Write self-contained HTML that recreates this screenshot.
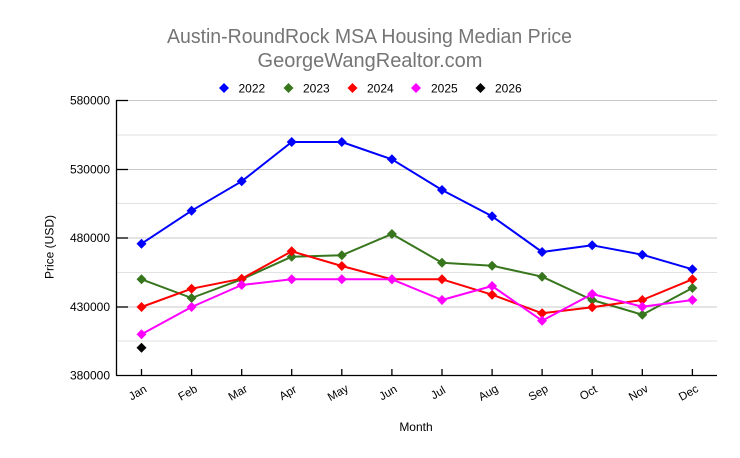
<!DOCTYPE html>
<html><head><meta charset="utf-8"><style>
html,body{margin:0;padding:0;background:#fff;}
svg{display:block;font-family:"Liberation Sans",Arial,sans-serif;}
</style></head><body>
<svg width="740" height="458" viewBox="0 0 740 458" xmlns="http://www.w3.org/2000/svg">
<rect width="740" height="458" fill="#fff"/>
<text x="369.5" y="43" text-anchor="middle" font-size="20" fill="#757575" textLength="405" lengthAdjust="spacingAndGlyphs">Austin-RoundRock MSA Housing Median Price</text>
<text x="370" y="67" text-anchor="middle" font-size="20" fill="#757575">GeorgeWangRealtor.com</text>
<g font-size="12" fill="#000">
<path d="M224 83 L229 88 L224 93 L219 88 Z" fill="#0000ff"/><text x="238.5" y="92.5">2022</text>
<path d="M288.5 83 L293.5 88 L288.5 93 L283.5 88 Z" fill="#38761d"/><text x="303" y="92.5">2023</text>
<path d="M352.5 83 L357.5 88 L352.5 93 L347.5 88 Z" fill="#ff0000"/><text x="367" y="92.5">2024</text>
<path d="M416 83 L421 88 L416 93 L411 88 Z" fill="#ff00ff"/><text x="431" y="92.5">2025</text>
<path d="M480.5 83 L485.5 88 L480.5 93 L475.5 88 Z" fill="#000"/><text x="495" y="92.5">2026</text>
</g>
<g stroke-width="1">
<line x1="116" x2="717" y1="135" y2="135" stroke="#e2e2e2"/>
<line x1="116" x2="717" y1="203.5" y2="203.5" stroke="#e2e2e2"/>
<line x1="116" x2="717" y1="272.5" y2="272.5" stroke="#e2e2e2"/>
<line x1="116" x2="717" y1="341" y2="341" stroke="#e2e2e2"/>
<line x1="116" x2="717" y1="100.5" y2="100.5" stroke="#c8c8c8"/>
<line x1="116" x2="717" y1="169.5" y2="169.5" stroke="#c8c8c8"/>
<line x1="116" x2="717" y1="238" y2="238" stroke="#c8c8c8"/>
<line x1="116" x2="717" y1="307" y2="307" stroke="#c8c8c8"/>
</g>
<g stroke="#000" stroke-width="1.3">
<line x1="116.5" y1="100" x2="116.5" y2="375.5"/>
<line x1="116" y1="375.5" x2="717" y2="375.5"/>
<line x1="116" x2="128" y1="100.5" y2="100.5"/>
<line x1="116" x2="128" y1="169.5" y2="169.5"/>
<line x1="116" x2="128" y1="238" y2="238"/>
<line x1="116" x2="128" y1="307" y2="307"/>
<line x1="141.5" x2="141.5" y1="369" y2="375"/>
<line x1="191.6" x2="191.6" y1="369" y2="375"/>
<line x1="241.7" x2="241.7" y1="369" y2="375"/>
<line x1="291.7" x2="291.7" y1="369" y2="375"/>
<line x1="341.8" x2="341.8" y1="369" y2="375"/>
<line x1="391.9" x2="391.9" y1="369" y2="375"/>
<line x1="442" x2="442" y1="369" y2="375"/>
<line x1="492.1" x2="492.1" y1="369" y2="375"/>
<line x1="542.1" x2="542.1" y1="369" y2="375"/>
<line x1="592.2" x2="592.2" y1="369" y2="375"/>
<line x1="642.3" x2="642.3" y1="369" y2="375"/>
<line x1="692.4" x2="692.4" y1="369" y2="375"/>
</g>
<g font-size="12" fill="#000" text-anchor="end">
<text x="110" y="104.5">580000</text>
<text x="110" y="173.5">530000</text>
<text x="110" y="242">480000</text>
<text x="110" y="311">430000</text>
<text x="110" y="379.5">380000</text>
</g>
<text transform="translate(53.5,247) rotate(-90)" text-anchor="middle" font-size="12" fill="#000">Price (USD)</text>
<g font-size="11.5" fill="#000" text-anchor="middle">
<text transform="translate(139.5,396) rotate(-30)">Jan</text>
<text transform="translate(189.6,396) rotate(-30)">Feb</text>
<text transform="translate(239.7,396) rotate(-30)">Mar</text>
<text transform="translate(289.7,396) rotate(-30)">Apr</text>
<text transform="translate(339.8,396) rotate(-30)">May</text>
<text transform="translate(389.9,396) rotate(-30)">Jun</text>
<text transform="translate(440,396) rotate(-30)">Jul</text>
<text transform="translate(490.1,396) rotate(-30)">Aug</text>
<text transform="translate(540.1,396) rotate(-30)">Sep</text>
<text transform="translate(590.2,396) rotate(-30)">Oct</text>
<text transform="translate(640.3,396) rotate(-30)">Nov</text>
<text transform="translate(690.4,396) rotate(-30)">Dec</text>
</g>
<text x="416" y="431" text-anchor="middle" font-size="12" fill="#000">Month</text>
<defs>
<path id="d" d="M0 -5 L5 0 L0 5 L-5 0 Z"/>
</defs>
<g fill="none" stroke-width="2" stroke-linejoin="round">
<polyline stroke="#0000ff" points="141.5,243.7 191.6,210.7 241.7,181.3 291.7,142 341.8,142 391.9,159.3 442,190 492.1,216.3 542.1,252 592.2,245.3 642.3,254.7 692.4,269.3"/>
<polyline stroke="#38761d" points="141.5,279.3 191.6,298 241.7,279.3 291.7,256.7 341.8,255.3 391.9,234 442,262.7 492.1,265.7 542.1,276.7 592.2,300 642.3,314.7 692.4,288"/>
<polyline stroke="#ff0000" points="141.5,307 191.6,288.7 241.7,278.7 291.7,251.3 341.8,266 391.9,279.3 442,279.3 492.1,294.7 542.1,313.3 592.2,307.3 642.3,300 692.4,279.3"/>
<polyline stroke="#ff00ff" points="141.5,334.3 191.6,307 241.7,285 291.7,279.3 341.8,279.3 391.9,279.3 442,300 492.1,286 542.1,320.7 592.2,294 642.3,306.7 692.4,300"/>
</g>
<g fill="#0000ff">
<use href="#d" x="141.5" y="243.7"/><use href="#d" x="191.6" y="210.7"/><use href="#d" x="241.7" y="181.3"/><use href="#d" x="291.7" y="142"/><use href="#d" x="341.8" y="142"/><use href="#d" x="391.9" y="159.3"/><use href="#d" x="442" y="190"/><use href="#d" x="492.1" y="216.3"/><use href="#d" x="542.1" y="252"/><use href="#d" x="592.2" y="245.3"/><use href="#d" x="642.3" y="254.7"/><use href="#d" x="692.4" y="269.3"/>
</g>
<g fill="#38761d">
<use href="#d" x="141.5" y="279.3"/><use href="#d" x="191.6" y="298"/><use href="#d" x="241.7" y="279.3"/><use href="#d" x="291.7" y="256.7"/><use href="#d" x="341.8" y="255.3"/><use href="#d" x="391.9" y="234"/><use href="#d" x="442" y="262.7"/><use href="#d" x="492.1" y="265.7"/><use href="#d" x="542.1" y="276.7"/><use href="#d" x="592.2" y="300"/><use href="#d" x="642.3" y="314.7"/><use href="#d" x="692.4" y="288"/>
</g>
<g fill="#ff0000">
<use href="#d" x="141.5" y="307"/><use href="#d" x="191.6" y="288.7"/><use href="#d" x="241.7" y="278.7"/><use href="#d" x="291.7" y="251.3"/><use href="#d" x="341.8" y="266"/><use href="#d" x="391.9" y="279.3"/><use href="#d" x="442" y="279.3"/><use href="#d" x="492.1" y="294.7"/><use href="#d" x="542.1" y="313.3"/><use href="#d" x="592.2" y="307.3"/><use href="#d" x="642.3" y="300"/><use href="#d" x="692.4" y="279.3"/>
</g>
<g fill="#ff00ff">
<use href="#d" x="141.5" y="334.3"/><use href="#d" x="191.6" y="307"/><use href="#d" x="241.7" y="285"/><use href="#d" x="291.7" y="279.3"/><use href="#d" x="341.8" y="279.3"/><use href="#d" x="391.9" y="279.3"/><use href="#d" x="442" y="300"/><use href="#d" x="492.1" y="286"/><use href="#d" x="542.1" y="320.7"/><use href="#d" x="592.2" y="294"/><use href="#d" x="642.3" y="306.7"/><use href="#d" x="692.4" y="300"/>
</g>
<g fill="#000">
<use href="#d" x="141.5" y="347.7"/>
</g>
</svg>
</body></html>
